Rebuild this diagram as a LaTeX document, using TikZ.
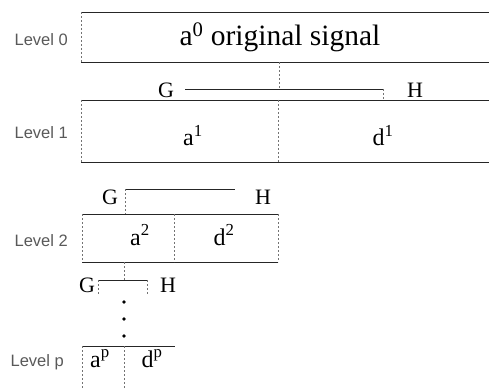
\documentclass[tikz,border=0pt]{standalone}
\usepackage{fontspec}
\setmainfont{Liberation Serif}
\newfontfamily\lvlfont{Liberation Sans}

\begin{document}
\begin{tikzpicture}[x=1pt,y=-1pt,
  rule/.style={black!85,line width=0.7pt},
  edge/.style={black!55,line width=0.6pt,dash pattern=on 2pt off 2pt},
  lvl/.style={anchor=base east,font=\fontsize{16.5}{18}\lvlfont,text=black!65,inner sep=0pt},
  sig/.style={anchor=base,font=\fontsize{24}{26}\selectfont,inner sep=0pt},
  filt/.style={anchor=base,font=\fontsize{22}{24}\selectfont,inner sep=0pt}]
  \useasboundingbox (0,0) rectangle (489,390);
  % level 0
  \coordinate (b0tl) at (81,12);  \coordinate (b0tr) at (489,12);
  \coordinate (b0bl) at (81,62);  \coordinate (b0br) at (489,62);
  \node[lvl] (lvl0) at (68,46) {Level 0};
  \node[sig,font=\fontsize{29.5}{31}\selectfont] (sig0) at (280,46) {a\textsuperscript{0} original signal};
  \draw[rule] (b0tl) -- (b0tr);
  \draw[rule] (b0bl) -- (b0br);
  \draw[edge] (b0tl) -- (b0bl);
  % split into level 1
  \coordinate (s0) at (279,62);   \coordinate (j0) at (279,89);
  \coordinate (g1) at (185,89);   \coordinate (h1) at (383,89);
  \coordinate (h1d) at (383,100);
  \node[filt] (G1) at (166,98) {G};
  \node[filt] (H1) at (415,98) {H};
  \draw[edge] (s0) -- (j0);
  \draw[rule] (g1) -- (h1);
  \draw[edge] (h1) -- (h1d);
  % level 1
  \coordinate (b1tl) at (81,100); \coordinate (b1tr) at (489,100);
  \coordinate (b1bl) at (81,162); \coordinate (b1br) at (489,162);
  \coordinate (m1t) at (278,100); \coordinate (m1b) at (278,162);
  \node[lvl] (lvl1) at (68,139) {Level 1};
  \node[sig] (a1) at (193,146) {a\textsuperscript{1}};
  \node[sig] (d1) at (383,146) {d\textsuperscript{1}};
  \draw[rule] (b1tl) -- (b1tr);
  \draw[rule] (b1bl) -- (b1br);
  \draw[edge] (b1tl) -- (b1bl);
  \draw[edge] (m1t) -- (m1b);
  % split into level 2
  \coordinate (g2) at (125,189);  \coordinate (h2) at (235,189);
  \coordinate (g2d) at (125,214);
  \node[filt] (G2) at (110,204) {G};
  \node[filt] (H2) at (263,204) {H};
  \draw[rule] (g2) -- (h2);
  \draw[edge] (g2) -- (g2d);
  % level 2
  \coordinate (b2tl) at (82,214);  \coordinate (b2tr) at (278,214);
  \coordinate (b2bl) at (82,262);  \coordinate (b2br) at (278,262);
  \coordinate (m2t) at (174,214);  \coordinate (m2b) at (174,262);
  \node[lvl] (lvl2) at (68,246) {Level 2};
  \node[sig] (a2) at (140,245) {a\textsuperscript{2}};
  \node[sig] (d2) at (224,245) {d\textsuperscript{2}};
  \draw[rule] (b2tl) -- (b2tr);
  \draw[rule] (b2bl) -- (b2br);
  \draw[edge] (b2tl) -- (b2bl);
  \draw[edge] (b2tr) -- (b2br);
  \draw[edge] (m2t) -- (m2b);
  % split towards level p
  \coordinate (s2) at (124,262);  \coordinate (j2) at (124,280);
  \coordinate (gp) at (98,280);   \coordinate (hp) at (147,280);
  \coordinate (gpd) at (98,294);  \coordinate (hpd) at (147,294);
  \node[filt] (Gp) at (87,292) {G};
  \node[filt] (Hp) at (168,292) {H};
  \draw[edge] (s2) -- (j2);
  \draw[rule] (gp) -- (hp);
  \draw[edge] (gp) -- (gpd);
  \draw[edge] (hp) -- (hpd);
  \foreach \dy in {302,319,336}
    \fill (124,\dy) circle (1.8);
  % level p
  \coordinate (bptl) at (82,346);  \coordinate (bptr) at (175,346);
  \coordinate (bpbl) at (82,390);
  \coordinate (mpt) at (124,346);  \coordinate (mpb) at (124,390);
  \node[lvl] (lvlp) at (64,366) {Level p};
  \node[sig] (ap) at (100,367) {a\textsuperscript{p}};
  \node[sig] (dp) at (152,367) {d\textsuperscript{p}};
  \draw[rule] (bptl) -- (bptr);
  \draw[edge] (bptl) -- (bpbl);
  \draw[edge] (mpt) -- (mpb);
\end{tikzpicture}
\end{document}
